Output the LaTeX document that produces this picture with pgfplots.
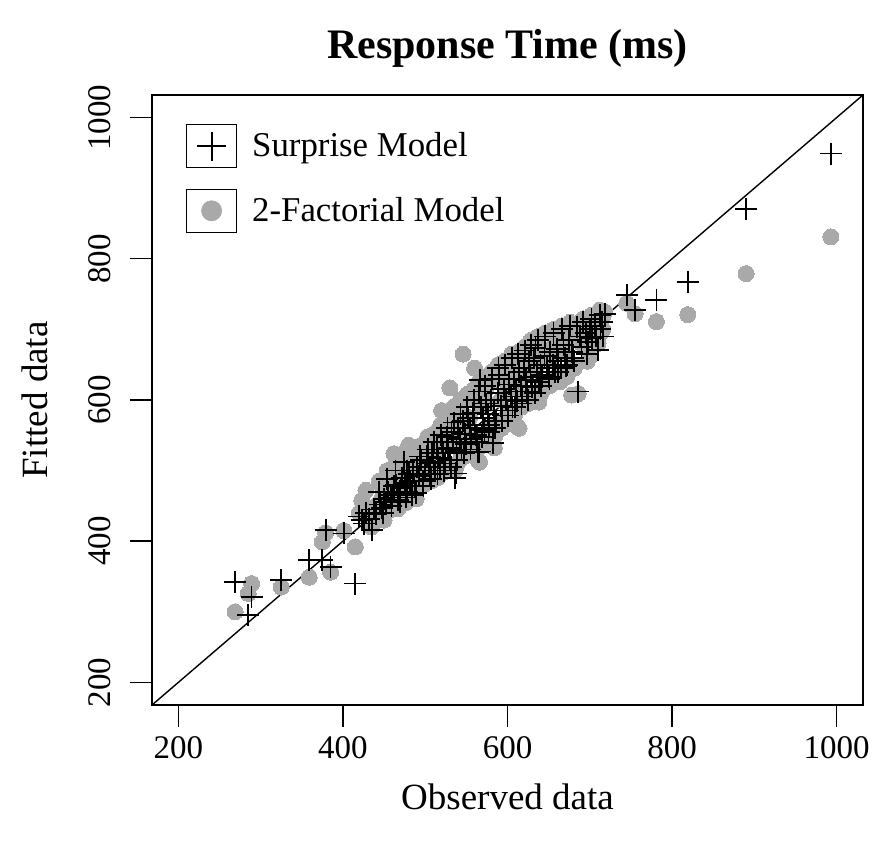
\documentclass[border=0pt]{standalone}
\usepackage{fontspec}
\setmainfont{Liberation Serif}
\usepackage{pgfplots}
\pgfplotsset{compat=1.18}
\definecolor{dotgray}{RGB}{169,169,169}

\begin{document}
\begin{tikzpicture}
\useasboundingbox (0,0) rectangle (438.5pt,424.5pt);
\begin{axis}[
  at={(76pt,72pt)}, anchor=south west,
  scale only axis, width=355.5pt, height=305pt,
  xmin=168, xmax=1032, ymin=168, ymax=1032,
  xtick={200,400,600,800,1000}, ytick={200,400,600,800,1000},
  xticklabels={200,400,600,800,1000}, yticklabels={200,400,600,800,1000},
  tick align=outside, xtick pos=bottom, ytick pos=left,
  major tick length=11pt,
  axis line style={line width=0.7pt, black},
  major tick style={line width=0.7pt, black},
  ticklabel style={font=\fontsize{16.5}{19}\selectfont},
  xticklabel style={anchor=center, yshift=-10.5pt},
  yticklabel style={anchor=center, xshift=-15pt, rotate=90},
  title={Response Time (ms)},
  title style={font=\fontsize{21}{25}\selectfont\bfseries, at={(axis description cs:0.5,1.0574)}, anchor=center},
  xlabel={Observed data},
  xlabel style={font=\fontsize{18.5}{22}\selectfont, at={(axis description cs:0.5,-0.1508)}, anchor=center},
  ylabel={Fitted data},
  ylabel style={font=\fontsize{18.5}{22}\selectfont, at={(axis description cs:-0.1646,0.5)}, anchor=center},
  reverse legend,
  legend cell align=left,
  legend style={at={(axis description cs:0,1)}, anchor=north west, xshift=17pt, yshift=-14.5pt,
    draw=none, fill=none, inner sep=0pt, outer sep=0pt, row sep=10.25pt, column sep=7.5pt,
    font=\fontsize{17.4}{20}\selectfont, nodes={inner sep=0pt}},
  clip=true,
]
\addplot[only marks, mark=*, mark size=4pt, mark options={fill=dotgray, draw=dotgray, line width=0pt},
  legend image code/.code={\draw[black,line width=0.6pt,fill=white] (0pt,-10.75pt) rectangle (25pt,10.75pt); \fill[dotgray] (12.5pt,0pt) circle (5pt);}]
coordinates {
(269,300)(289,340)(285,326)(325,335)(359,349)(375,399)(385,356)(379,412)(401,415)(415,392)
(423,458)(435,420)(420,440)(428,472)(432,445)(438,430)(426,438)(445,482)(440,450)(450,430)
(447,460)(455,475)(452,462)(458,470)(462,524)(460,480)(465,490)(467,446)(470,522)(472,500)
(468,470)(475,490)(478,478)(480,536)(482,495)(485,512)(487,470)(489,460)(490,520)(492,500)
(495,530)(497,488)(500,508)(502,535)(504,520)(506,490)(508,545)(510,522)(512,498)(514,555)
(516,528)(518,502)(520,585)(522,540)(524,505)(526,560)(528,545)(530,617)(532,575)(534,550)
(536,500)(537,505)(538,540)(540,590)(542,560)(544,520)(546,665)(548,565)(550,530)(552,600)
(554,575)(556,540)(558,607)(560,645)(562,545)(564,515)(566,512)(567,620)(568,610)(570,590)
(572,550)(574,615)(576,595)(578,560)(580,625)(582,534)(584,532)(586,565)(588,630)(590,640)
(592,600)(594,570)(596,635)(598,610)(600,580)(602,640)(604,615)(606,585)(608,652)(610,620)
(612,562)(614,560)(616,630)(618,598)(620,660)(622,640)(624,605)(626,665)(628,645)(630,610)
(632,670)(634,660)(636,650)(638,597)(640,660)(642,625)(645,670)(648,655)(650,625)(652,672)
(655,662)(658,632)(660,682)(662,665)(664,626)(668,685)(670,670)(672,633)(675,690)(678,607)
(680,650)(684,706)(686,609)(688,695)(690,680)(695,700)(698,690)(700,661)(703,695)(706,708)
(710,680)(712,727)(716,700)(715,715)(745,737)(755,722)(781,711)(819,721)(890,779)(993,831)
(478,510)(484,470)(494,535)(498,480)(503,548)(507,485)(511,552)(515,490)(519,565)(523,498)
(527,575)(531,500)(535,590)(539,510)(543,600)(547,520)(551,608)(555,525)(559,615)(563,530)
(565,625)(569,540)(573,632)(577,545)(581,640)(585,550)(589,650)(593,560)(597,655)(601,570)
(605,665)(609,580)(613,668)(617,590)(621,675)(625,595)(629,685)(633,600)(637,690)(641,610)
(646,695)(651,620)(656,700)(661,630)(666,705)(671,640)(676,710)(681,645)(692,715)(697,655)
(702,720)(708,685)(713,695)(718,725)(444,485)(449,435)(454,500)(459,445)(464,510)(469,450)
(474,525)(477,455)
};
\addlegendentry{2-Factorial Model}
\addplot[only marks, mark=+, mark size=5.5pt, mark options={line width=0.9pt, black},
  legend image code/.code={\draw[black,line width=0.6pt] (0pt,-10.75pt) rectangle (25pt,10.75pt); \draw[black,line width=0.9pt] (5.25pt,0pt)--(19.75pt,0pt) (12.5pt,-7.25pt)--(12.5pt,7.25pt);}]
coordinates {
(269,342)(289,321)(285,295)(325,345)(359,373)(375,373)(385,363)(379,416)(401,411)(415,340)
(423,430)(435,416)(420,435)(428,440)(432,432)(438,445)(426,425)(445,452)(440,438)(450,460)
(447,447)(455,470)(452,455)(458,462)(462,478)(460,465)(465,480)(467,458)(470,475)(472,490)
(468,468)(475,482)(478,470)(480,495)(482,485)(485,500)(487,478)(489,468)(490,505)(492,492)
(495,515)(497,485)(500,500)(502,520)(504,510)(506,495)(508,525)(510,512)(512,500)(514,530)
(516,518)(518,505)(520,540)(522,525)(524,510)(526,548)(528,532)(530,515)(532,555)(534,540)
(536,489)(537,496)(538,528)(540,560)(542,545)(544,530)(546,570)(548,552)(550,538)(552,575)
(554,560)(556,545)(558,582)(560,565)(562,550)(564,526)(566,527)(567,628)(568,590)(570,575)
(572,558)(574,595)(576,580)(578,565)(580,600)(582,539)(584,585)(586,570)(588,610)(590,635)
(592,592)(594,578)(596,615)(598,600)(600,585)(602,622)(604,605)(606,590)(608,630)(610,612)
(612,598)(614,640)(616,620)(618,605)(620,645)(622,628)(624,612)(626,655)(628,632)(630,618)
(632,660)(634,674)(636,640)(638,625)(640,650)(642,635)(645,662)(648,645)(650,632)(652,668)
(655,650)(658,640)(660,672)(662,655)(665,645)(668,678)(670,660)(672,650)(675,685)(678,668)
(680,660)(684,704)(686,612)(688,690)(690,675)(695,695)(698,682)(700,700)(703,688)(706,705)
(710,671)(712,720)(716,690)(715,710)(745,749)(755,727)(781,742)(819,767)(890,870)(993,949)
(478,500)(484,465)(494,520)(498,478)(503,530)(507,488)(511,540)(515,495)(519,550)(523,500)
(527,560)(531,505)(535,568)(539,515)(543,580)(547,525)(551,590)(555,530)(559,600)(563,540)
(565,612)(569,548)(573,620)(577,555)(581,630)(585,560)(589,645)(593,570)(597,650)(601,578)
(605,660)(609,590)(613,665)(617,595)(621,670)(625,600)(629,678)(633,610)(637,685)(641,620)
(646,690)(651,630)(656,695)(661,640)(666,700)(671,648)(676,705)(681,655)(692,710)(697,665)
(702,715)(708,690)(713,700)(718,722)(444,470)(449,440)(454,488)(459,450)(464,500)(469,455)
(474,512)(477,462)
};
\addlegendentry{Surprise Model}
\addplot[black, line width=0.7pt, forget plot] coordinates {(168,168) (1032,1032)};
\end{axis}
\end{tikzpicture}
\end{document}
